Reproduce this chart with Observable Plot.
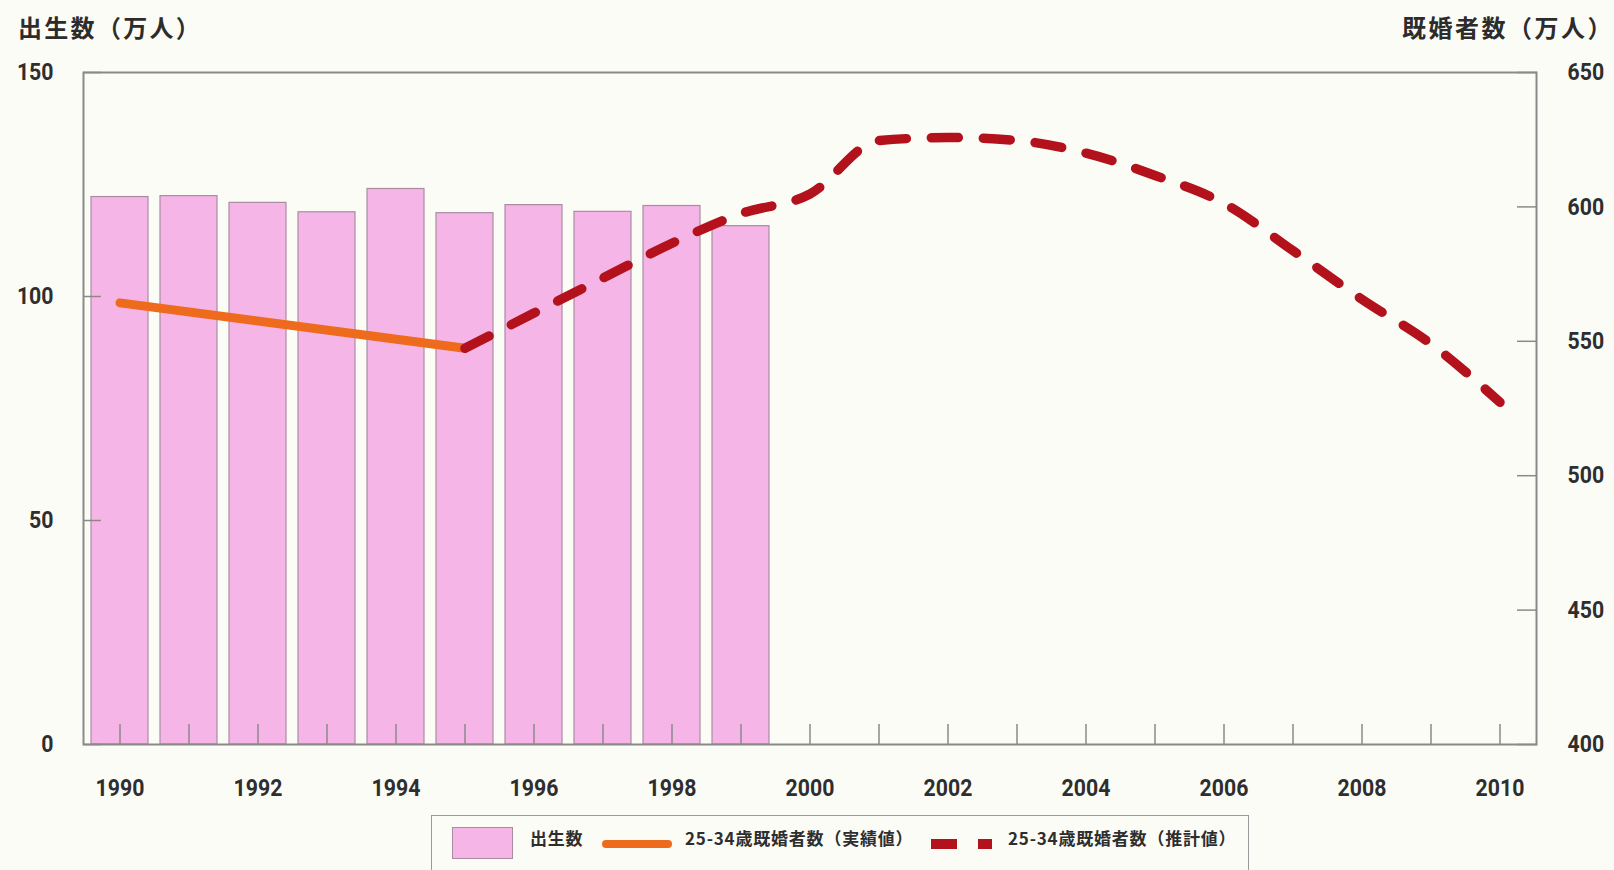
<!DOCTYPE html>
<html>
<head>
<meta charset="utf-8">
<script src="https://cdn.jsdelivr.net/npm/d3@7"></script>
<script src="https://cdn.jsdelivr.net/npm/@observablehq/plot@0.6"></script>
<style>
  html, body { margin: 0; padding: 0; background: #fcfcf7; }
  #wrap { position: relative; width: 1614px; height: 870px; overflow: hidden; background: #fcfcf7; }
  #chart { position: absolute; left: 0; top: 0; }
  .ttl { position: absolute; top: 14px; line-height: 26px; font-family: "Noto Sans CJK JP", sans-serif; font-weight: 700; font-size: 24px; letter-spacing: 2.3px; color: #2c2c2c; white-space: nowrap; }
  #legend { position: absolute; left: 431px; top: 815px; width: 818px; height: 70px; border: 1.5px solid #9a9a9a; box-sizing: border-box; }
  .lg { position: absolute; }
  .lgt { position: absolute; top: 827px; line-height: 22px; font-family: "Noto Sans CJK JP", sans-serif; font-weight: 700; font-size: 17px; letter-spacing: 0.8px; color: #2e2e2e; white-space: nowrap; }
</style>
</head>
<body>
<div id="wrap">
  <div id="chart"></div>
  <div class="ttl" id="tl" style="left:18px;"></div>
  <div class="ttl" id="tr" style="right:0px; letter-spacing:2.5px;"></div>
  <div id="legend"></div>
  <div class="lg" id="sw1" style="left:452px; top:827px; width:61px; height:32px; box-sizing:border-box;"></div>
  <div class="lgt" id="lt1" style="left:530px;"></div>
  <div class="lg" id="sw2" style="left:602px; top:840px; width:70px; height:8px; border-radius:4px;"></div>
  <div class="lgt" id="lt2" style="left:685px;"></div>
  <div class="lg" id="sw3a" style="left:931px; top:839px; width:26px; height:10px;"></div>
  <div class="lg" id="sw3b" style="left:978px; top:839px; width:14px; height:10px;"></div>
  <div class="lgt" id="lt3" style="left:1008px;"></div>
</div>
<script>
// ---- data ----
const xYears = [1990, 1991, 1992, 1993, 1994, 1995, 1996, 1997, 1998, 1999, 2000,
                2001, 2002, 2003, 2004, 2005, 2006, 2007, 2008, 2009, 2010];
const birthYears = [1990, 1991, 1992, 1993, 1994, 1995, 1996, 1997, 1998, 1999];
const births = [122.2, 122.4, 120.9, 118.8, 124.0, 118.6, 120.4, 118.9, 120.2, 115.7];
const actualYears = [1990, 1995];
const actualMarried = [564.3, 547.4];
const projYears = [1995, 1996, 1997, 1998, 1999, 2000, 2001, 2002, 2003, 2004, 2005, 2006, 2007, 2008, 2009, 2010];
const projMarried = [547.4, 560.5, 573.5, 586.5, 597.5, 604.8, 624.7, 625.8, 624.7, 620.0, 611.7, 601.3, 583.7, 565.6, 549.0, 527.3];
const leftTicks = [0, 50, 100, 150];
const rightTicks = [400, 450, 500, 550, 600, 650];
const leftTitle = "出生数（万人）";
const rightTitle = "既婚者数（万人）";
const legendLabels = ["出生数", "25-34歳既婚者数（実績値）", "25-34歳既婚者数（推計値）"];

// ---- colours ----
const barFill = "#f6b5e7", barStroke = "#a98ca2";
const orange = "#ee6a1c", red = "#b3121d";
const axisGray = "#8a8a8a", textCol = "#2e2e2e";

// ---- dual-axis mapping ----
const R0 = rightTicks[0], R1 = rightTicks[rightTicks.length - 1];
const L0 = leftTicks[0], L1 = leftTicks[leftTicks.length - 1];
const toLeft = v => L0 + (v - R0) * (L1 - L0) / (R1 - R0);
const fromLeft = v => Math.round(R0 + (v - L0) * (R1 - R0) / (L1 - L0));

const birthData = birthYears.map((y, i) => ({year: y, value: births[i]}));
const actualData = actualYears.map((y, i) => ({year: y, value: actualMarried[i]}));
const projData = projYears.map((y, i) => ({year: y, value: projMarried[i]}));

const numFont = '"Roboto", "Liberation Sans", sans-serif';

const plot = Plot.plot({
  width: 1614,
  height: 812,
  marginLeft: 83,
  marginRight: 78,
  marginTop: 72,
  marginBottom: 68,
  style: {
    background: "transparent",
    fontFamily: numFont,
    fontSize: "24px",
    fontWeight: "bold",
    color: textCol,
    overflow: "visible"
  },
  x: {type: "band", domain: xYears, paddingInner: 0.17, paddingOuter: 0.105, label: null},
  y: {domain: [L0, L1], label: null},
  marks: [
    Plot.barY(birthData, {x: "year", y: "value", fill: barFill, stroke: barStroke, strokeWidth: 1.2}),
    Plot.axisX(xYears, {
      anchor: "bottom", tickSize: -20, tickPadding: 54, label: null,
      stroke: axisGray, strokeWidth: 1.5, fill: textCol,
      tickFormat: d => (d % 2 === 0 ? String(d) : "")
    }),
    Plot.axisY(leftTicks, {
      anchor: "left", tickSize: -18, tickPadding: 48, label: null,
      stroke: axisGray, strokeWidth: 1.5, fill: textCol
    }),
    Plot.axisY(rightTicks.map(toLeft), {
      anchor: "right", tickSize: -20, tickPadding: 51, label: null,
      stroke: axisGray, strokeWidth: 1.5, fill: textCol,
      tickFormat: d => String(fromLeft(d))
    }),
    Plot.line(actualData, {x: "year", y: d => toLeft(d.value), stroke: orange, strokeWidth: 9, strokeLinecap: "round"}),
    Plot.line(projData, {x: "year", y: d => toLeft(d.value), stroke: red, strokeWidth: 9.5, strokeDasharray: "27,25", curve: "monotone-x"}),
    Plot.frame({stroke: axisGray, strokeWidth: 2})
  ]
});

// condensed look of the tick digits (reference uses a narrow typeface)
plot.querySelectorAll('g[aria-label$="tick label"] text').forEach(t => {
  const s = t.textContent;
  if (!s) return;
  t.setAttribute("textLength", (s.length * 12.2).toFixed(1));
  t.setAttribute("lengthAdjust", "spacingAndGlyphs");
});
document.getElementById("chart").appendChild(plot);

document.getElementById("tl").textContent = leftTitle;
document.getElementById("tr").textContent = rightTitle;
document.getElementById("lt1").textContent = legendLabels[0];
document.getElementById("lt2").textContent = legendLabels[1];
document.getElementById("lt3").textContent = legendLabels[2];
const sw1 = document.getElementById("sw1");
sw1.style.background = barFill; sw1.style.border = "1px solid " + barStroke;
document.getElementById("sw2").style.background = orange;
document.getElementById("sw3a").style.background = red;
document.getElementById("sw3b").style.background = red;
</script>
</body>
</html>
